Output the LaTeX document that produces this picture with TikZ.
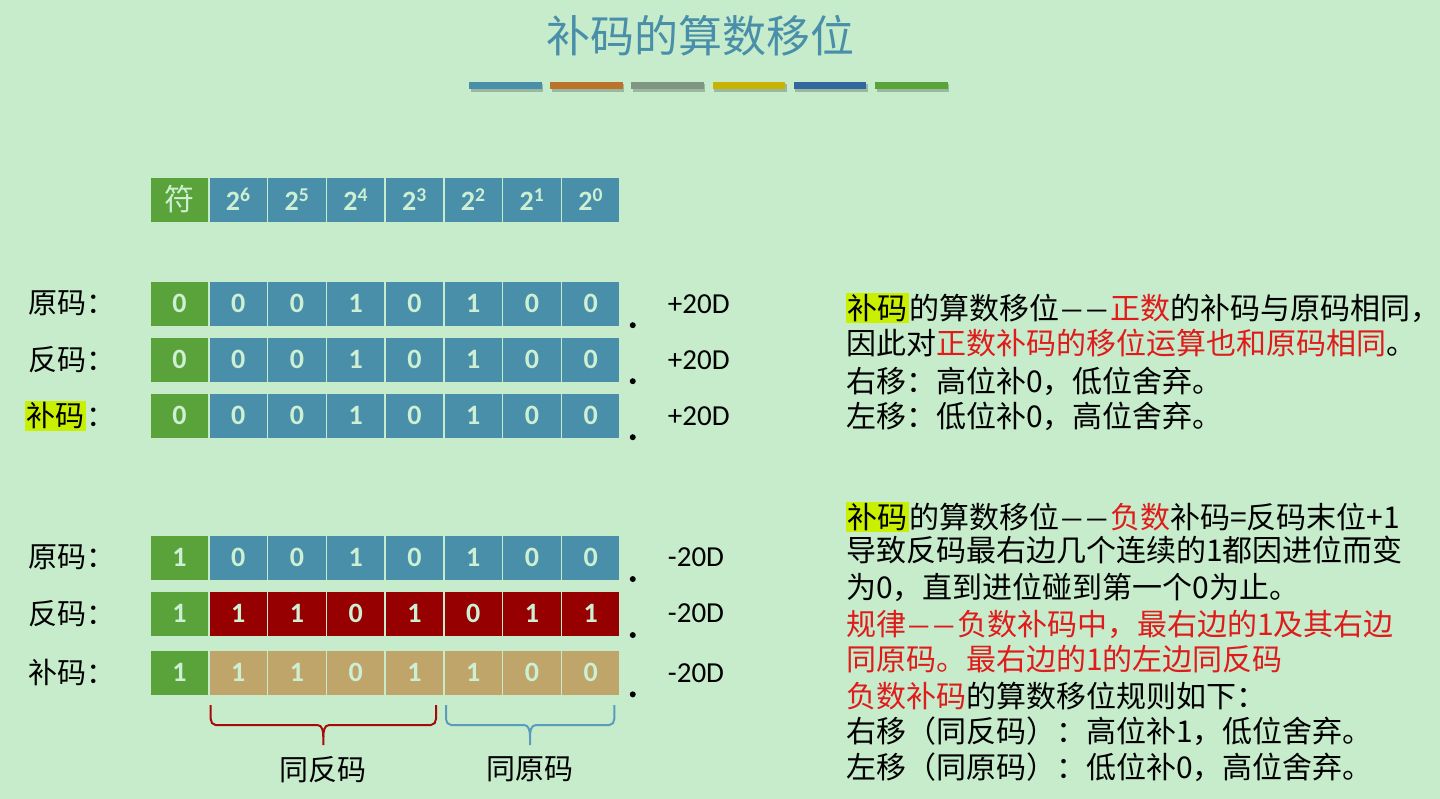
\documentclass[tikz,border=0pt]{standalone}
\usepackage{fontspec}
\setmainfont{Carlito}
\newfontfamily\cjk{Noto Sans CJK SC}
\usetikzlibrary{matrix,positioning,calc}

\definecolor{bg}{HTML}{C6ECCC}
\definecolor{tealc}{HTML}{4A8FA9}
\definecolor{greenc}{HTML}{5AA23A}
\definecolor{redc}{HTML}{960000}
\definecolor{tanc}{HTML}{BFA56A}
\definecolor{cellfg}{HTML}{CDEFD3}
\definecolor{tred}{HTML}{E01B1B}
\definecolor{hl}{HTML}{C8F000}
\definecolor{barA}{HTML}{4A8FA9}
\definecolor{barB}{HTML}{BD7229}
\definecolor{barC}{HTML}{7F9683}
\definecolor{barD}{HTML}{C8B400}
\definecolor{barE}{HTML}{33689E}
\definecolor{barF}{HTML}{5AA23A}
\definecolor{bred}{HTML}{A80808}
\definecolor{bblue}{HTML}{5A9CBC}

\newcommand\hlmark[1]{{\setlength\fboxsep{1.5pt}\colorbox{hl}{#1}}}
\newcommand\ddash{\makebox[0.85em]{\scalebox{0.8}[1]{—}}\makebox[0.85em]{\scalebox{0.8}[1]{—}}}

\tikzset{
  cell/.style={minimum width=58.75pt, minimum height=45.5pt, inner sep=0pt,
    draw=bg, line width=1.5pt, fill=tealc, text=cellfg,
    font=\fontsize{28}{30}\selectfont\bfseries},
  sgn/.style={fill=greenc},
  bits/.style={matrix of nodes, nodes={cell}, column sep=-1.5pt, row sep=9pt},
  lab/.style={inner sep=0pt, font=\cjk\fontsize{29}{32}\selectfont},
  val/.style={inner sep=0pt, font=\fontsize{29}{32}\selectfont},
  txt/.style={inner sep=0pt, anchor=west, font=\cjk\fontsize{30}{34}\selectfont},
  pdot/.style={fill=black},
  brc/.style={line width=2pt}
}

\begin{document}
\begin{tikzpicture}[x=1pt, y=-1pt]
  \fill[bg] (0,0) rectangle (1440,799);
  \useasboundingbox (0,0) rectangle (1440,799);

  % title and colour bars
  \node[inner sep=0pt, text=tealc, font=\cjk\fontsize{44}{48}\selectfont] (ttl) at (700,36) {补码的算数移位};
  \foreach \c [count=\i from 0] in {barA,barB,barC,barD,barE,barF} {
    \fill[black, opacity=.22] (470.5+81.2*\i,84.5) rectangle ++(72.5,7.5);
    \fill[\c] (469+81.2*\i,82) rectangle ++(72.5,7.5);
  }

  % weights
  \matrix[bits] (h) at (385,199.8) {
    |[sgn]|{\cjk\mdseries\fontsize{30}{32}\selectfont 符} & 2\textsuperscript{6} & 2\textsuperscript{5} & 2\textsuperscript{4} & 2\textsuperscript{3} & 2\textsuperscript{2} & 2\textsuperscript{1} & 2\textsuperscript{0} \\
  };

  % positive number
  \matrix[bits] (t) at (385,359.7) {
    |[sgn]|0 & 0 & 0 & 1 & 0 & 1 & 0 & 0 \\
    |[sgn]|0 & 0 & 0 & 1 & 0 & 1 & 0 & 0 \\
    |[sgn]|0 & 0 & 0 & 1 & 0 & 1 & 0 & 0 \\
  };
  \foreach \r/\n in {1/原码, 2/反码, 3/\hlmark{补码}} {
    \node[lab, left=34pt of t-\r-1] (tl\r) {\n：};
    \node[val, right=47pt of t-\r-8] (tv\r) {+20D};
    \fill[pdot] ($(t-\r-8.south east)+(12,-2)$) circle (3pt);
  }

  % negative number
  \matrix[bits, row 2/.style={nodes={fill=redc}}, row 3/.style={nodes={fill=tanc}}] (b) at (385,615.2) {
    |[sgn]|1 & 0 & 0 & 1 & 0 & 1 & 0 & 0 \\
    |[sgn]|1 & 1 & 1 & 0 & 1 & 0 & 1 & 1 \\[3.3pt]
    |[sgn]|1 & 1 & 1 & 0 & 1 & 1 & 0 & 0 \\
  };
  \foreach \r/\n in {1/原码, 2/反码, 3/补码} {
    \node[lab, left=34pt of b-\r-1] (bl\r) {\n：};
    \node[val, right=47pt of b-\r-8] (bv\r) {-20D};
    \fill[pdot] ($(b-\r-8.south east)+(12,-2)$) circle (3pt);
  }

  % braces
  \foreach \a/\e/\c/\col/\t [count=\i] in {210.7/436/323.3/bred/同反码, 446/614.3/530/bblue/同原码} {
    \coordinate (k\i) at (\c,745);
    \draw[brc, \col] (\a,705) -- (\a,719) to[out=-90,in=180] (\a+5,725) -- (\c-6,725)
      to[out=0,in=90] (\c,737) -- (k\i);
    \draw[brc, \col] (\e,705) -- (\e,719) to[out=-90,in=0] (\e-5,725) -- (\c+6,725)
      to[out=180,in=90] (\c,737);
    \node[lab, below=11pt of k\i] (kl\i) {\t};
  }

  % notes
  \foreach \y/\t [count=\i] in {
    308/{\hlmark{补码}的算数移位\ddash\textcolor{tred}{正数}的补码与原码相同，},
    343/{因此对\textcolor{tred}{正数补码的移位运算也和原码相同}。},
    381/{右移：高位补0，低位舍弃。},
    416/{左移：低位补0，高位舍弃。}}
    \node[txt] (pa\i) at (846,\y) {\t};
  \foreach \y/\t [count=\i] in {
    517/{\hlmark{补码}的算数移位\ddash\textcolor{tred}{负数}补码=反码末位+1},
    550/{导致反码最右边几个连续的1都因进位而变},
    587/{为0，直到进位碰到第一个0为止。},
    624/{\textcolor{tred}{规律\ddash 负数补码中，最右边的1及其右边}},
    659/{\textcolor{tred}{同原码。最右边的1的左边同反码}},
    696/{\textcolor{tred}{负数补码}的算数移位规则如下：},
    731/{右移（同反码）：高位补1，低位舍弃。},
    767/{左移（同原码）：低位补0，高位舍弃。}}
    \node[txt] (pb\i) at (846,\y) {\t};
\end{tikzpicture}
\end{document}
